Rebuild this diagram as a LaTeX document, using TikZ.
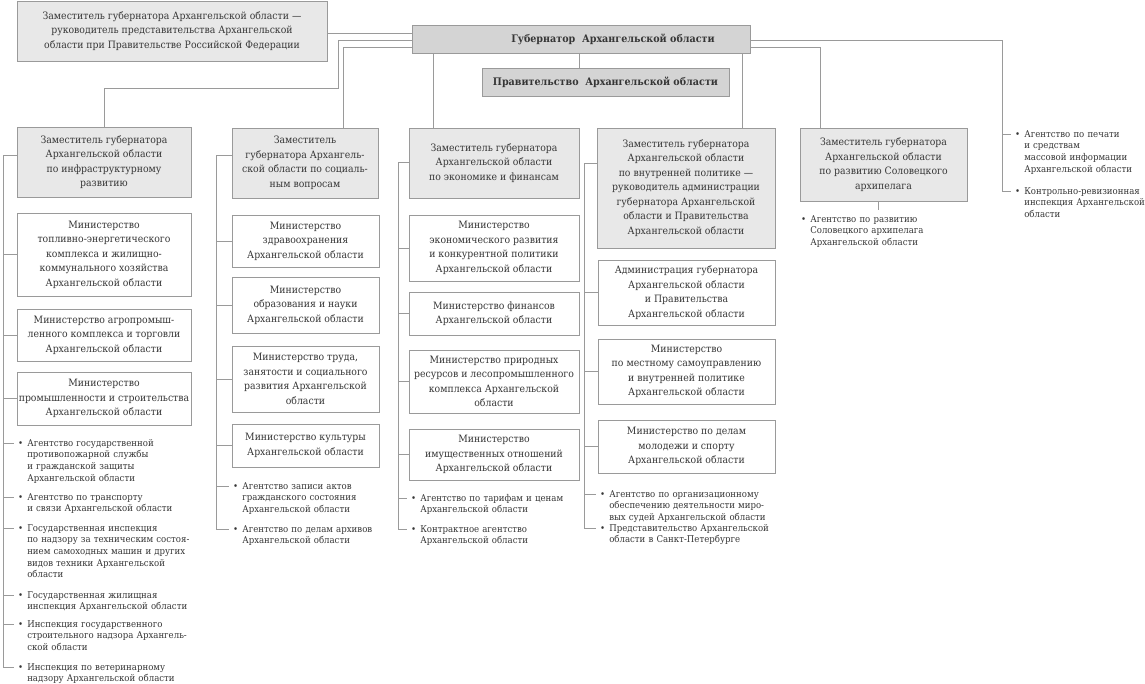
\documentclass[tikz,border=0pt]{standalone}
\usepackage{fontspec}
\setmainfont{DejaVu Serif}[FakeStretch=0.92]
\usetikzlibrary{calc}
\definecolor{depfill}{HTML}{E8E8E8}
\definecolor{govfill}{HTML}{D4D4D4}
\definecolor{bord}{HTML}{9A9A9A}
\definecolor{lncol}{HTML}{9A9A9A}
\definecolor{txt}{HTML}{363636}
\newcommand\boxfont{\fontsize{7.6}{10.9}\selectfont}
\newcommand\itemfont{\fontsize{7.0}{8.8}\selectfont}
\newcommand\govfont{\fontsize{7.8}{10.9}\selectfont\bfseries}
\tikzset{
  box/.style={draw=bord, line width=0.7pt, inner sep=0pt, align=center, font=\boxfont, text=txt},
  dep/.style={box, fill=depfill},
  gov/.style={box, fill=govfill, font=\govfont},
  minbox/.style={box, fill=white},
  item/.style={anchor=base west, align=left, text width=170pt, inner sep=0pt, font=\itemfont, text=txt},
  bul/.style={anchor=base east, inner sep=0pt, font=\itemfont, text=txt},
  ln/.style={draw=lncol, line width=0.7pt},
}
\newcommand\bx[7]{%
  \pgfmathsetmacro\bxw{(#4-#2)*0.75}\pgfmathsetmacro\bxh{(#5-#3)*0.75}%
  \node[#6, minimum width=\bxw pt, minimum height=\bxh pt] (#1) at ({(#2+#4)/2},{(#3+#5)/2}) {#7};}
\newcommand\itm[4]{%
  \node[item] (#1) at (#2,#3) {#4};
  \node[bul] (#1b) at ([xshift=-2.6pt]#1.base west) {•};}
\begin{document}
\begin{tikzpicture}[x=0.75pt,y=-0.75pt]
\useasboundingbox (0,0) rectangle (1145,683);
% top level
\bx{rep}{17}{1}{327}{61}{dep}{Заместитель губернатора Архангельской области —\\руководитель представительства Архангельской\\области при Правительстве Российской Федерации}
\bx{gov}{412}{25}{750}{53}{gov}{\hspace*{48pt}Губернатор\ \ Архангельской области}
\bx{govt}{482}{68}{729}{96}{gov}{Правительство\ \ Архангельской области}
% deputies
\bx{d1}{17}{127}{191}{197}{dep}{Заместитель губернатора\\Архангельской области\\по инфраструктурному\\развитию}
\bx{d2}{232}{128}{378}{198}{dep}{Заместитель\\губернатора Архангель-\\ской области по социаль-\\ным вопросам}
\bx{d3}{409}{128}{579}{198}{dep}{Заместитель губернатора\\Архангельской области\\по экономике и финансам}
\bx{d4}{597}{128}{775}{248}{dep}{Заместитель губернатора\\Архангельской области\\по внутренней политике —\\руководитель администрации\\губернатора Архангельской\\области и Правительства\\Архангельской области}
\bx{d5}{800}{128}{967}{201}{dep}{Заместитель губернатора\\Архангельской области\\по развитию Соловецкого\\архипелага}
% column 1
\bx{m11}{17}{213}{191}{296}{minbox}{Министерство\\топливно-энергетического\\комплекса и жилищно-\\коммунального хозяйства\\Архангельской области}
\bx{m12}{17}{309}{191}{361}{minbox}{Министерство агропромыш-\\ленного комплекса и торговли\\Архангельской области}
\bx{m13}{17}{372}{191}{425}{minbox}{Министерство\\промышленности и строительства\\Архангельской области}
\itm{i11}{27}{446}{Агентство государственной\\противопожарной службы\\и гражданской защиты\\Архангельской области}
\itm{i12}{27}{500}{Агентство по транспорту\\и связи Архангельской области}
\itm{i13}{27}{531}{Государственная инспекция\\по надзору за техническим состоя-\\нием самоходных машин и других\\видов техники Архангельской\\области}
\itm{i14}{27}{598}{Государственная жилищная\\инспекция Архангельской области}
\itm{i15}{27}{627}{Инспекция государственного\\строительного надзора Архангель-\\ской области}
\itm{i16}{27}{670}{Инспекция по ветеринарному\\надзору Архангельской области}
% column 2
\bx{m21}{232}{215}{379}{267}{minbox}{Министерство\\здравоохранения\\Архангельской области}
\bx{m22}{232}{277}{379}{333}{minbox}{Министерство\\образования и науки\\Архангельской области}
\bx{m23}{232}{346}{379}{412}{minbox}{Министерство труда,\\занятости и социального\\развития Архангельской\\области}
\bx{m24}{232}{424}{379}{467}{minbox}{Министерство культуры\\Архангельской области}
\itm{i21}{242}{489}{Агентство записи актов\\гражданского состояния\\Архангельской области}
\itm{i22}{242}{532}{Агентство по делам архивов\\Архангельской области}
% column 3
\bx{m31}{409}{215}{579}{281}{minbox}{Министерство\\экономического развития\\и конкурентной политики\\Архангельской области}
\bx{m32}{409}{292}{579}{335}{minbox}{Министерство финансов\\Архангельской области}
\bx{m33}{409}{350}{579}{413}{minbox}{Министерство природных\\ресурсов и лесопромышленного\\комплекса Архангельской\\области}
\bx{m34}{409}{429}{579}{480}{minbox}{Министерство\\имущественных отношений\\Архангельской области}
\itm{i31}{420}{501}{Агентство по тарифам и ценам\\Архангельской области}
\itm{i32}{420}{532}{Контрактное агентство\\Архангельской области}
% column 4
\bx{m41}{598}{260}{775}{325}{minbox}{Администрация губернатора\\Архангельской области\\и Правительства\\Архангельской области}
\bx{m42}{598}{339}{775}{404}{minbox}{Министерство\\по местному самоуправлению\\и внутренней политике\\Архангельской области}
\bx{m43}{598}{420}{775}{473}{minbox}{Министерство по делам\\молодежи и спорту\\Архангельской области}
\itm{i41}{609}{497}{Агентство по организационному\\обеспечению деятельности миро-\\вых судей Архангельской области}
\itm{i42}{609}{531}{Представительство Архангельской\\области в Санкт-Петербурге}
% column 5
\itm{i51}{810}{222}{Агентство по развитию\\Соловецкого архипелага\\Архангельской области}
% right
\itm{r1}{1024}{137}{Агентство по печати\\и средствам\\массовой информации\\Архангельской области}
\itm{r2}{1024}{194}{Контрольно-ревизионная\\инспекция Архангельской\\области}
% coordinates
\coordinate (gl1) at ([yshift=4.5pt]gov.west);
\coordinate (gl2) at ([yshift=-0.75pt]gov.west);
\coordinate (gl3) at ([yshift=-6pt]gov.west);
\coordinate (gr1) at ([yshift=-0.75pt]gov.east);
\coordinate (gr2) at ([yshift=-6pt]gov.east);
\coordinate (k1) at (338,88);
\coordinate (k2) at (343,0);
\coordinate (k3) at (433,0);
\coordinate (k4) at (579,0);
\coordinate (k5) at (742,0);
\coordinate (k7) at (820,0);
\coordinate (k8) at (878,210);
\coordinate (t1) at (3,155);
\coordinate (t2) at (216,155);
\coordinate (t3) at (398,162);
\coordinate (t4) at (584,163);
\coordinate (t6) at (1002,0);
% top connectors
\draw[ln] (rep.east |- gl1) -- (gl1);
\draw[ln] (gl2) -| (k1) -| (d1.north);
\draw[ln] (gl3) -| (k2 |- d2.north);
\draw[ln] (k3 |- gov.south) -- (k3 |- d3.north);
\draw[ln] (k4 |- gov.south) -- (k4 |- govt.north);
\draw[ln] (k5 |- gov.south) -- (k5 |- d4.north);
\draw[ln] (gr1) -| (t6 |- r2b.west) -- ([xshift=-3pt]r2b.west);
\draw[ln] (t6 |- r1b.west) -- ([xshift=-3pt]r1b.west);
\draw[ln] (gr2) -| (k7 |- d5.north);
\draw[ln] (k8 |- d5.south) -- (k8);
% column 1 trunk
\draw[ln] (t1 -| d1.west) -- (t1) -- (t1 |- i16b.west) -- ([xshift=-3pt]i16b.west);
\foreach \n in {m11,m12,m13} \draw[ln] (\n.west -| t1) -- (\n.west);
\foreach \n in {i11,i12,i13,i14,i15} \draw[ln] (\n b.west -| t1) -- ([xshift=-3pt]\n b.west);
% column 2
\draw[ln] (t2 -| d2.west) -- (t2) -- (t2 |- i22b.west) -- ([xshift=-3pt]i22b.west);
\foreach \n in {m21,m22,m23,m24} \draw[ln] (\n.west -| t2) -- (\n.west);
\draw[ln] (i21b.west -| t2) -- ([xshift=-3pt]i21b.west);
% column 3
\draw[ln] (t3 -| d3.west) -- (t3) -- (t3 |- i32b.west) -- ([xshift=-3pt]i32b.west);
\foreach \n in {m31,m32,m33,m34} \draw[ln] (\n.west -| t3) -- (\n.west);
\draw[ln] (i31b.west -| t3) -- ([xshift=-3pt]i31b.west);
% column 4
\draw[ln] (t4 -| d4.west) -- (t4) -- (t4 |- i42b.west) -- ([xshift=-3pt]i42b.west);
\foreach \n in {m41,m42,m43} \draw[ln] (\n.west -| t4) -- (\n.west);
\draw[ln] (i41b.west -| t4) -- ([xshift=-3pt]i41b.west);
\end{tikzpicture}
\end{document}
